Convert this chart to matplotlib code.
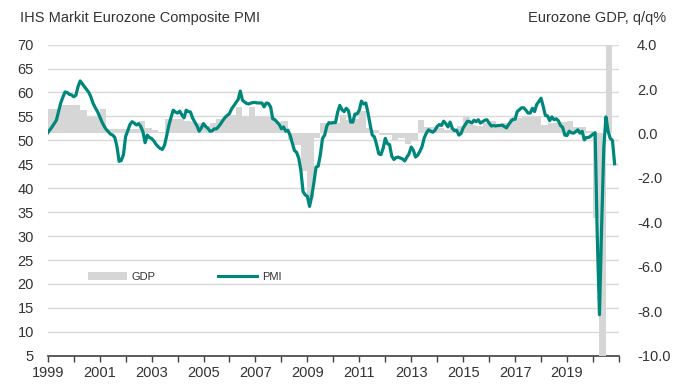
import numpy as np
import matplotlib
matplotlib.use("Agg")
import matplotlib.pyplot as plt
from matplotlib.patches import Patch
from matplotlib.lines import Line2D

plt.rcParams['font.family'] = ['Liberation Sans', 'DejaVu Sans']
plt.rcParams['axes.unicode_minus'] = False

# composite PMI, monthly, Jan 1999 - Nov 2020
pmi = [
    51.6, 52.2, 52.8, 53.5, 54.2, 56.0, 57.8, 59.0, 60.1, 60.0, 59.6, 59.5,  # 1999
    59.1, 59.4, 61.2, 62.4, 61.8, 61.2, 60.6, 60.0, 59.0, 57.7, 56.8, 56.0,  # 2000
    55.0, 53.9, 53.0, 52.3, 51.8, 51.3, 51.1, 50.6, 48.7, 45.6, 45.8, 47.0,  # 2001
    50.8, 52.0, 53.3, 53.9, 53.6, 53.2, 53.5, 52.9, 51.8, 49.5, 51.1, 50.6,  # 2002
    50.4, 49.9, 49.2, 48.7, 48.3, 48.1, 49.0, 51.0, 53.2, 54.8, 56.3, 55.9,  # 2003
    55.7, 56.1, 55.3, 54.7, 56.3, 56.0, 55.9, 54.6, 53.8, 53.0, 51.9, 52.6,  # 2004
    53.5, 52.9, 52.5, 51.9, 52.0, 52.4, 52.4, 52.9, 53.5, 54.2, 54.8, 55.2,  # 2005
    55.6, 56.6, 57.2, 57.9, 58.5, 60.3, 58.4, 58.0, 57.7, 57.6, 57.8, 57.9,  # 2006
    57.9, 57.8, 57.8, 57.8, 57.0, 57.8, 57.7, 57.0, 54.5, 54.3, 53.8, 53.3,  # 2007
    52.4, 52.8, 51.9, 52.1, 51.1, 49.5, 47.9, 47.5, 46.3, 43.7, 39.3, 38.6,  # 2008
    38.3, 36.2, 38.3, 41.1, 44.4, 44.6, 47.0, 50.4, 51.1, 53.0, 53.7, 53.6,  # 2009
    53.7, 53.7, 55.9, 57.3, 56.4, 56.0, 56.7, 56.2, 53.8, 53.8, 55.5, 55.5,  # 2010
    56.3, 58.2, 57.6, 57.8, 55.8, 53.3, 51.1, 50.7, 49.1, 47.2, 47.0, 48.3,  # 2011
    50.4, 49.3, 49.1, 46.7, 46.0, 46.4, 46.5, 46.3, 46.1, 45.7, 46.5, 47.2,  # 2012
    48.6, 47.9, 46.5, 46.9, 47.7, 48.7, 50.5, 51.5, 52.2, 51.9, 51.7, 52.1,  # 2013
    52.9, 53.3, 53.1, 54.0, 53.5, 52.8, 53.8, 52.5, 52.0, 52.1, 51.1, 51.4,  # 2014
    52.6, 53.3, 54.0, 53.9, 53.6, 54.2, 53.9, 54.3, 53.6, 53.9, 54.2, 54.3,  # 2015
    53.6, 53.0, 53.1, 53.0, 53.1, 53.1, 53.2, 52.9, 52.6, 53.3, 53.9, 54.4,  # 2016
    54.4, 56.0, 56.4, 56.8, 56.8, 56.3, 55.7, 55.7, 56.7, 56.0, 57.5, 58.1,  # 2017
    58.8, 57.1, 55.2, 55.1, 54.1, 54.9, 54.3, 54.5, 54.1, 53.1, 52.7, 51.1,  # 2018
    51.0, 51.9, 51.6, 51.5, 51.8, 52.2, 51.5, 51.9, 50.1, 50.6, 50.6, 50.9,  # 2019
    51.3, 51.6, 29.7, 13.6, 31.9, 48.5, 54.9, 51.9, 50.4, 50.0, 45.1,        # 2020
]

# GDP q/q %, quarterly, 1999Q1 - 2020Q3
gdp = [
    1.1, 1.1, 1.3, 1.3,      # 1999
    1.3, 1.05, 0.75, 0.75,   # 2000
    1.1, 0.2, 0.2, 0.2,      # 2001
    0.2, 0.2, 0.55, 0.25,    # 2002
    0.15, 0.05, 0.65, 0.65,  # 2003
    0.65, 0.55, 0.5, 0.45,   # 2004
    0.35, 0.45, 0.65, 0.75,  # 2005
    0.85, 1.2, 0.75, 1.2,    # 2006
    0.8, 0.75, 0.75, 0.5,    # 2007
    0.55, -0.3, -0.5, -1.7,  # 2008
    -2.9, -0.2, 0.45, 0.45,  # 2009
    0.45, 0.85, 0.6, 0.65,   # 2010
    1.0, 0.25, 0.15, -0.05,  # 2011
    -0.05, -0.3, -0.2, -0.45,  # 2012
    -0.35, 0.6, 0.3, 0.3,    # 2013
    0.25, 0.15, 0.25, 0.35,  # 2014
    0.75, 0.4, 0.35, 0.45,   # 2015
    0.55, 0.35, 0.45, 0.7,   # 2016
    0.7, 0.8, 0.75, 0.75,    # 2017
    0.4, 0.45, 0.45, 0.5,    # 2018
    0.55, 0.3, 0.3, 0.1,     # 2019
    -3.8, -11.8, 12.6,       # 2020
]

x_pmi = 1999 + np.arange(len(pmi)) / 12
x_gdp = 1999 + np.arange(len(gdp)) / 4

teal = '#00877c'
bar_grey = '#d6d6d6'
txt = '#333333'

fig = plt.figure(figsize=(6.74, 3.91), dpi=100)
ax = fig.add_axes([0.0708, 0.090, 0.8475, 0.796])
ax2 = ax.twinx()   # GDP bars
ax3 = ax.twinx()   # PMI line on top

ax.set_ylim(5, 70)
ax.set_yticks(range(5, 75, 5))
ax.yaxis.grid(True, color='#d9d9d9', lw=1.0)
ax.set_axisbelow(True)

ax2.bar(x_gdp, gdp, width=0.25, align='edge', color=bar_grey, lw=0)
ax2.set_ylim(-10, 4)
ax2.set_yticks(np.arange(-10, 5, 2))
ax2.set_yticklabels(['%.1f' % v for v in np.arange(-10, 5, 2)])

ax3.plot(x_pmi, pmi, color=teal, lw=2.3, solid_joinstyle='round')
ax3.set_ylim(5, 70)
ax3.set_yticks([])

for a in (ax, ax2, ax3):
    a.set_xlim(1999, 2021)
    for s in ('left', 'right', 'top', 'bottom'):
        a.spines[s].set_visible(False)

ax.spines['bottom'].set_visible(True)
ax.spines['bottom'].set_color('#404040')
ax.spines['bottom'].set_linewidth(1.2)

ax.set_xticks(range(1999, 2022))
ax.set_xticklabels([str(y) if y % 2 == 1 and y < 2021 else '' for y in range(1999, 2022)])
ax.tick_params(axis='x', length=4, width=1, color='#404040', labelsize=10.5,
               labelcolor=txt, pad=3)
ax.tick_params(axis='y', length=0, pad=10, labelsize=10.5, labelcolor=txt)
ax2.tick_params(axis='y', length=0, pad=13, labelsize=10.5, labelcolor=txt)
ax2.tick_params(axis='x', length=0, labelbottom=False)
ax3.tick_params(axis='x', length=0, labelbottom=False)

fig.text(0.030, 0.955, 'IHS Markit Eurozone Composite PMI', fontsize=10.5,
         color=txt, ha='left', va='center')
fig.text(0.988, 0.955, 'Eurozone GDP, q/q%', fontsize=10.5,
         color=txt, ha='right', va='center')

handles = [Patch(facecolor=bar_grey, edgecolor='none', label='GDP'),
           Line2D([], [], color=teal, lw=2.2, label='PMI')]
ax3.legend(handles=handles, ncol=2, frameon=False, fontsize=8,
           loc='center left', bbox_to_anchor=(0.07, 0.253),
           handlelength=3.5, handletextpad=0.4, columnspacing=5.7,
           borderpad=0, borderaxespad=0, labelcolor=txt)

fig.savefig('out.png', dpi=100, facecolor='white')
